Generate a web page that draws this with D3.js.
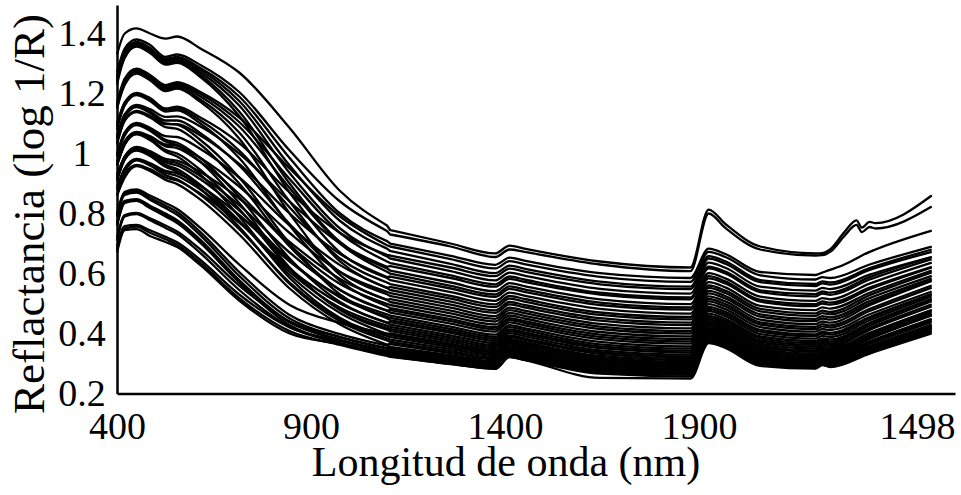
<!DOCTYPE html>
<html>
<head>
<meta charset="utf-8">
<script src="https://cdn.jsdelivr.net/npm/d3@7"></script>
<style>
  html, body { margin: 0; padding: 0; background: #fff; }
  svg { display: block; }
  text { font-family: "Liberation Serif", "Times New Roman", serif; fill: #000; }
</style>
</head>
<body>
<svg id="chart" width="961" height="495"></svg>
<script>
// Sampling wavelengths (nm): first detector (400 – 1096) and second detector (1104 – 2500)
const visWavelengths = [400, 420, 450, 485, 525, 555, 615, 715, 845, 975, 1096];
const nirWavelengths = [1104, 1260, 1375, 1412, 1450, 1645, 1878, 1925, 1968, 2058, 2200, 2218, 2238, 2275, 2306, 2320, 2340, 2355, 2500];

// Absorbance on the first detector, one row per sample
const visSpectra = [
  [1.33, 1.40, 1.417, 1.400, 1.383, 1.390, 1.350, 1.270, 1.085, 0.875, 0.760],
  [1.27, 1.35, 1.380, 1.362, 1.322, 1.330, 1.295, 1.205, 1.010, 0.840, 0.742],
  [1.25, 1.34, 1.372, 1.352, 1.315, 1.322, 1.285, 1.190, 0.985, 0.800, 0.708],
  [1.17, 1.25, 1.283, 1.262, 1.228, 1.238, 1.205, 1.120, 0.950, 0.790, 0.694],
  [1.26, 1.33, 1.368, 1.348, 1.310, 1.318, 1.278, 1.175, 0.960, 0.775, 0.683],
  [1.10, 1.17, 1.202, 1.185, 1.150, 1.156, 1.120, 1.035, 0.870, 0.735, 0.662],
  [1.24, 1.33, 1.364, 1.345, 1.305, 1.312, 1.270, 1.160, 0.935, 0.750, 0.657],
  [1.16, 1.24, 1.278, 1.258, 1.224, 1.233, 1.198, 1.105, 0.915, 0.735, 0.640],
  [1.06, 1.13, 1.162, 1.148, 1.122, 1.124, 1.090, 1.000, 0.840, 0.700, 0.622],
  [1.25, 1.32, 1.360, 1.338, 1.300, 1.308, 1.262, 1.140, 0.900, 0.705, 0.617],
  [1.15, 1.24, 1.275, 1.254, 1.220, 1.228, 1.190, 1.090, 0.885, 0.700, 0.606],
  [1.04, 1.11, 1.142, 1.126, 1.098, 1.098, 1.060, 0.965, 0.800, 0.665, 0.588],
  [1.23, 1.32, 1.356, 1.335, 1.296, 1.302, 1.255, 1.125, 0.870, 0.670, 0.585],
  [1.09, 1.17, 1.198, 1.180, 1.145, 1.150, 1.110, 1.010, 0.820, 0.650, 0.570],
  [1.00, 1.07, 1.102, 1.086, 1.058, 1.055, 1.015, 0.920, 0.760, 0.628, 0.552],
  [1.16, 1.23, 1.270, 1.248, 1.214, 1.222, 1.180, 1.070, 0.840, 0.640, 0.552],
  [0.97, 1.04, 1.072, 1.058, 1.030, 1.026, 0.985, 0.890, 0.735, 0.605, 0.539],
  [1.05, 1.13, 1.158, 1.140, 1.110, 1.110, 1.068, 0.960, 0.765, 0.605, 0.531],
  [0.93, 0.99, 1.022, 1.008, 0.982, 0.976, 0.938, 0.850, 0.705, 0.582, 0.512],
  [1.15, 1.23, 1.266, 1.244, 1.208, 1.216, 1.172, 1.050, 0.800, 0.595, 0.512],
  [0.97, 1.04, 1.070, 1.054, 1.024, 1.018, 0.972, 0.865, 0.695, 0.565, 0.499],
  [1.08, 1.16, 1.195, 1.175, 1.140, 1.144, 1.100, 0.985, 0.760, 0.575, 0.491],
  [0.92, 0.99, 1.020, 1.004, 0.976, 0.968, 0.925, 0.828, 0.670, 0.545, 0.476],
  [1.03, 1.11, 1.138, 1.120, 1.088, 1.082, 1.030, 0.900, 0.690, 0.545, 0.476],
  [0.89, 0.95, 0.982, 0.968, 0.942, 0.934, 0.892, 0.795, 0.640, 0.524, 0.464],
  [0.92, 0.99, 1.017, 1.000, 0.970, 0.960, 0.914, 0.810, 0.645, 0.520, 0.456],
  [1.05, 1.12, 1.155, 1.135, 1.100, 1.096, 1.045, 0.920, 0.700, 0.530, 0.451],
  [0.86, 0.93, 0.962, 0.948, 0.920, 0.910, 0.866, 0.770, 0.615, 0.500, 0.436],
  [0.99, 1.07, 1.098, 1.080, 1.046, 1.036, 0.985, 0.855, 0.650, 0.505, 0.436],
  [0.88, 0.95, 0.980, 0.964, 0.936, 0.925, 0.880, 0.775, 0.605, 0.486, 0.426],
  [0.96, 1.03, 1.066, 1.048, 1.012, 1.000, 0.945, 0.815, 0.615, 0.480, 0.419],
  [0.99, 1.06, 1.095, 1.076, 1.040, 1.028, 0.972, 0.835, 0.620, 0.478, 0.413],
  [0.91, 0.98, 1.014, 0.996, 0.962, 0.948, 0.895, 0.775, 0.595, 0.468, 0.398],
  [0.80, 0.872, 0.880, 0.860, 0.835, 0.815, 0.752, 0.630, 0.495, 0.435, 0.400],
  [0.96, 1.03, 1.064, 1.045, 1.006, 0.990, 0.930, 0.790, 0.585, 0.452, 0.392],
  [0.88, 0.94, 0.977, 0.960, 0.928, 0.914, 0.862, 0.748, 0.570, 0.447, 0.384],
  [0.91, 0.98, 1.010, 0.992, 0.956, 0.940, 0.882, 0.755, 0.565, 0.440, 0.377],
  [0.86, 0.92, 0.958, 0.942, 0.912, 0.898, 0.846, 0.730, 0.550, 0.430, 0.363],
  [0.79, 0.868, 0.875, 0.852, 0.826, 0.805, 0.738, 0.605, 0.462, 0.398, 0.360],
  [0.79, 0.862, 0.870, 0.846, 0.818, 0.796, 0.727, 0.592, 0.450, 0.388, 0.349],
  [0.77, 0.842, 0.848, 0.826, 0.800, 0.778, 0.712, 0.578, 0.438, 0.377, 0.338],
  [0.76, 0.838, 0.845, 0.822, 0.795, 0.772, 0.705, 0.570, 0.428, 0.367, 0.329],
  [0.76, 0.835, 0.842, 0.818, 0.790, 0.768, 0.702, 0.572, 0.438, 0.380, 0.342],
  [0.72, 0.795, 0.802, 0.784, 0.760, 0.740, 0.680, 0.560, 0.440, 0.388, 0.352],
  [0.71, 0.790, 0.798, 0.778, 0.752, 0.732, 0.668, 0.545, 0.422, 0.368, 0.333],
  [0.69, 0.758, 0.762, 0.744, 0.722, 0.704, 0.645, 0.530, 0.420, 0.375, 0.340],
  [0.68, 0.750, 0.756, 0.736, 0.714, 0.696, 0.635, 0.518, 0.408, 0.362, 0.325],
  [0.67, 0.745, 0.748, 0.725, 0.705, 0.688, 0.628, 0.510, 0.400, 0.365, 0.329]
];

// Absorbance on the second detector; null where a sample was not read at that wavelength
const nirSpectra = [
  [0.745, 0.700, 0.667, 0.693, 0.683, 0.640, 0.620, 0.813, 0.765, 0.690, 0.667, 0.668, 0.680, 0.738, 0.777, 0.753, 0.772, 0.768, 0.860],
  [0.730, 0.690, 0.655, 0.680, 0.672, 0.630, 0.608, 0.800, 0.752, 0.680, 0.660, 0.661, 0.672, 0.725, 0.762, 0.738, 0.755, 0.750, 0.823],
  [0.700, 0.659, 0.629, 0.653, 0.643, 0.601, 0.585, 0.683, 0.665, 0.605, 0.595, 0.603, 0.612, 0.630, 0.650, 0.660, 0.672, 0.680, 0.743],
  [0.690, 0.648, 0.617, 0.641, 0.631, 0.589, 0.572, 0.672, 0.655, 0.594, 0.580, 0.588, 0.585, null, null, null, 0.630, null, 0.690],
  [0.675, 0.632, 0.601, 0.626, 0.616, 0.573, 0.556, 0.658, 0.641, 0.578, 0.565, 0.574, 0.570, null, null, null, 0.618, null, 0.680],
  [0.660, 0.620, 0.591, 0.616, 0.606, 0.564, 0.548, 0.650, 0.633, 0.571, 0.558, 0.567, 0.563, null, null, null, 0.612, null, 0.672],
  [0.650, 0.608, 0.577, 0.603, 0.593, 0.549, 0.533, 0.636, 0.619, 0.556, 0.543, 0.552, 0.548, null, null, null, 0.596, null, 0.655],
  [0.635, 0.594, 0.564, 0.590, 0.580, 0.536, 0.520, 0.623, 0.606, 0.544, 0.531, 0.540, 0.536, null, null, null, 0.588, null, 0.655],
  [0.625, 0.585, 0.556, 0.582, 0.572, 0.530, 0.514, 0.617, 0.600, 0.538, 0.524, 0.533, 0.529, null, null, null, 0.580, null, 0.648],
  [0.610, 0.570, 0.541, 0.568, 0.558, 0.514, 0.498, 0.601, 0.584, 0.523, 0.509, 0.518, 0.514, null, null, null, 0.566, null, 0.636],
  [0.600, 0.559, 0.530, 0.557, 0.547, 0.503, 0.487, 0.591, 0.574, 0.512, 0.498, 0.507, 0.503, null, null, null, 0.553, null, 0.622],
  [0.590, 0.550, 0.522, 0.549, 0.539, 0.495, 0.480, 0.584, 0.567, 0.506, 0.491, 0.500, 0.496, null, null, null, 0.548, null, 0.620],
  [0.578, 0.538, 0.509, 0.536, 0.526, 0.482, 0.466, 0.571, 0.554, 0.492, 0.478, 0.487, 0.483, null, null, null, 0.536, null, 0.610],
  [0.565, 0.525, 0.497, 0.525, 0.515, 0.470, 0.455, 0.560, 0.543, 0.482, 0.467, 0.476, 0.472, null, null, null, 0.528, null, 0.604],
  [0.555, 0.516, 0.488, 0.516, 0.506, 0.462, 0.447, 0.552, 0.535, 0.474, 0.459, 0.468, 0.464, null, null, null, 0.518, null, 0.592],
  [0.545, 0.506, 0.477, 0.505, 0.495, 0.451, 0.436, 0.542, 0.525, 0.464, 0.449, 0.458, 0.454, null, null, null, 0.508, null, 0.584],
  [0.535, 0.496, 0.469, 0.497, 0.487, 0.443, 0.428, 0.534, 0.517, 0.456, 0.441, 0.450, 0.446, null, null, null, 0.500, null, 0.577],
  [0.525, 0.486, 0.458, 0.486, 0.476, 0.432, 0.417, 0.524, 0.507, 0.446, 0.431, 0.440, 0.436, null, null, null, 0.494, null, 0.575],
  [0.515, 0.476, 0.449, 0.478, 0.468, 0.423, 0.408, 0.515, 0.498, 0.437, 0.422, 0.431, 0.427, null, null, null, 0.482, null, 0.560],
  [0.505, 0.467, 0.440, 0.469, 0.459, 0.415, 0.400, 0.507, 0.490, 0.430, 0.415, 0.424, 0.420, null, null, null, 0.475, null, 0.553],
  [0.495, 0.457, 0.430, 0.460, 0.450, 0.405, 0.390, 0.498, 0.481, 0.421, 0.406, 0.415, 0.411, null, null, null, 0.464, null, 0.540],
  [0.485, 0.448, 0.421, 0.451, 0.441, 0.396, 0.381, 0.489, 0.472, 0.412, 0.397, 0.406, 0.402, null, null, null, 0.455, null, 0.532],
  [0.478, 0.441, 0.414, 0.445, 0.435, 0.389, 0.374, 0.482, 0.465, 0.406, 0.391, 0.400, 0.396, null, null, null, 0.451, null, 0.530],
  [0.470, 0.433, 0.406, 0.437, 0.427, 0.381, 0.366, 0.475, 0.458, 0.398, 0.383, 0.392, 0.388, null, null, null, 0.444, null, 0.524],
  [0.460, 0.423, 0.396, 0.428, 0.418, 0.372, 0.357, 0.466, 0.449, 0.390, 0.375, 0.384, 0.380, null, null, null, 0.436, null, 0.516],
  [0.452, 0.415, 0.389, 0.421, 0.411, 0.364, 0.350, 0.459, 0.442, 0.384, 0.368, 0.378, 0.373, null, null, null, 0.433, null, 0.514],
  [0.445, 0.408, 0.382, 0.414, 0.404, 0.357, 0.343, 0.453, 0.436, 0.377, 0.362, 0.372, 0.367, null, null, null, 0.426, null, 0.508],
  [0.438, 0.402, 0.375, 0.408, 0.398, 0.351, 0.337, 0.447, 0.430, 0.372, 0.356, 0.366, 0.361, null, null, null, 0.418, null, 0.497],
  [0.430, 0.394, 0.368, 0.401, 0.391, 0.344, 0.330, 0.441, 0.424, 0.366, 0.350, 0.360, 0.355, null, null, null, 0.412, null, 0.490],
  [0.422, 0.387, 0.361, 0.394, 0.384, 0.338, 0.324, 0.435, 0.418, 0.360, 0.344, 0.354, 0.349, null, null, null, 0.402, null, 0.478],
  [0.415, 0.380, 0.355, 0.389, 0.379, 0.332, 0.318, 0.430, 0.413, 0.355, 0.339, 0.349, 0.344, null, null, null, 0.400, null, 0.478],
  [0.408, 0.373, 0.348, 0.382, 0.372, 0.325, 0.312, 0.424, 0.407, 0.349, 0.333, 0.343, 0.338, null, null, null, 0.394, null, 0.471],
  [0.400, 0.366, 0.342, 0.376, 0.367, 0.319, 0.306, 0.418, 0.402, 0.344, 0.328, 0.338, 0.333, null, null, null, 0.388, null, 0.465],
  [0.395, 0.361, 0.337, 0.371, 0.362, 0.314, 0.301, 0.414, 0.398, 0.340, 0.324, 0.334, 0.329, null, null, null, 0.384, null, 0.460],
  [0.388, 0.355, 0.331, 0.366, 0.357, 0.309, 0.296, 0.409, 0.393, 0.335, 0.319, 0.329, 0.324, null, null, null, 0.382, null, 0.462],
  [0.380, 0.348, 0.325, 0.360, 0.351, 0.304, 0.292, 0.405, 0.389, 0.331, 0.315, 0.325, 0.320, null, null, null, 0.374, null, 0.449],
  [0.372, 0.341, 0.319, 0.354, 0.345, 0.299, 0.287, 0.401, 0.385, 0.327, 0.311, 0.321, 0.316, null, null, null, 0.370, null, 0.444],
  [0.365, 0.335, 0.314, 0.349, 0.340, 0.294, 0.283, 0.397, 0.381, 0.323, 0.307, 0.318, 0.312, null, null, null, 0.365, null, 0.438],
  [0.355, 0.328, 0.308, 0.344, 0.335, 0.290, 0.279, 0.393, 0.377, 0.319, 0.303, 0.314, 0.308, null, null, null, 0.356, null, 0.425],
  [0.345, 0.320, 0.302, 0.339, 0.330, 0.285, 0.275, 0.390, 0.374, 0.315, 0.300, 0.311, 0.305, null, null, null, 0.356, null, 0.427],
  [0.335, 0.312, 0.295, 0.333, 0.324, 0.279, 0.270, 0.386, 0.370, 0.311, 0.296, 0.307, 0.301, null, null, null, 0.351, null, 0.420],
  [0.325, 0.304, 0.289, 0.328, 0.319, 0.274, 0.266, 0.382, 0.366, 0.307, 0.292, 0.303, 0.297, null, null, null, 0.346, null, 0.414],
  [0.340, 0.316, 0.298, 0.336, 0.327, 0.282, 0.272, 0.388, 0.372, 0.313, 0.298, 0.309, 0.303, null, null, null, 0.354, null, 0.424],
  [0.350, 0.324, 0.305, 0.342, 0.333, 0.287, 0.277, 0.392, 0.376, 0.317, 0.302, 0.313, 0.307, null, null, null, 0.358, null, 0.430],
  [0.330, 0.306, 0.288, 0.327, 0.318, 0.271, 0.262, 0.378, 0.362, 0.303, 0.289, 0.300, 0.294, null, null, null, 0.342, null, 0.410],
  [0.338, 0.313, 0.295, 0.333, 0.324, 0.278, 0.268, 0.384, 0.368, 0.309, 0.294, 0.305, 0.299, null, null, null, 0.348, null, 0.417],
  [0.322, 0.299, 0.282, 0.321, 0.312, 0.266, 0.257, 0.374, 0.358, 0.298, 0.285, 0.296, 0.290, null, null, null, 0.337, null, 0.405],
  [0.325, 0.298, 0.283, 0.322, 0.312, 0.252, 0.250, 0.368, 0.352, 0.292, 0.283, 0.295, 0.288, null, null, null, 0.333, null, 0.400]
];

// Axis ticks and labels
const xTickValues = [400, 900, 1400, 1900, 2498];
const xTickLabels = ["400", "900", "1400", "1900", "1498"];
const yTickValues = [0.2, 0.4, 0.6, 0.8, 1.0, 1.2, 1.4];
const yTickLabels = ["0.2", "0.4", "0.6", "0.8", "1", "1.2", "1.4"];
const xTitle = "Longitud de onda (nm)";
const yTitle = "Reflactancia (log 1/R)";

const svg = d3.select("#chart");
const x = d3.scaleLinear().domain([400, 2560]).range([117, 955]);
const y = d3.scaleLinear().domain([0.2, 1.495]).range([393.5, 5]);

const line = d3.line()
  .x(d => x(d[0]))
  .y(d => y(d[1]))
  .curve(d3.curveMonotoneX);

const toPoints = (waves, values) =>
  waves.map((w, j) => [w, values[j]]).filter(p => p[1] !== null);

// Each spectrum: smooth curve per detector, joined by a straight step at the detector change
const series = visSpectra.map((vis, i) => ({
  vis: toPoints(visWavelengths, vis),
  nir: toPoints(nirWavelengths, nirSpectra[i])
}));

svg.append("g")
  .selectAll("path")
  .data(series)
  .join("path")
  .attr("d", s => line(s.vis) + line(s.nir).replace(/^M/, "L"))
  .attr("fill", "none")
  .attr("stroke", "#000")
  .attr("stroke-width", 2.3)
  .attr("stroke-linejoin", "round");

// X axis
const gx = svg.append("g")
  .attr("transform", `translate(0,${y(0.2)})`)
  .call(d3.axisBottom(x)
    .tickValues(xTickValues)
    .tickFormat((d, i) => xTickLabels[i])
    .tickSize(0)
    .tickSizeOuter(0)
    .tickPadding(19));
gx.select(".domain").attr("stroke", "#000").attr("stroke-width", 2.5);
gx.selectAll("text")
  .attr("font-family", '"Liberation Serif", "Times New Roman", serif')
  .attr("font-size", 38)
  .attr("fill", "#000");
gx.selectAll(".tick").filter(d => d === 2498).select("text")
  .attr("text-anchor", "end")
  .attr("x", x.range()[1] - x(2498));

// Y axis
const gy = svg.append("g")
  .attr("transform", `translate(${x(400)},0)`)
  .call(d3.axisLeft(y)
    .tickValues(yTickValues)
    .tickFormat((d, i) => yTickLabels[i])
    .tickSize(0)
    .tickSizeOuter(0));
gy.select(".domain").attr("stroke", "#000").attr("stroke-width", 2.5);
gy.selectAll("text")
  .attr("font-family", '"Liberation Serif", "Times New Roman", serif')
  .attr("font-size", 38)
  .attr("fill", "#000")
  .attr("text-anchor", "middle")
  .attr("x", -35);

// Axis titles
svg.append("text")
  .attr("x", 506)
  .attr("y", 476)
  .attr("text-anchor", "middle")
  .attr("font-size", 42)
  .text(xTitle);

svg.append("text")
  .attr("transform", "rotate(-90)")
  .attr("x", -214)
  .attr("y", 44)
  .attr("text-anchor", "middle")
  .attr("font-size", 45)
  .text(yTitle);
</script>
</body>
</html>
